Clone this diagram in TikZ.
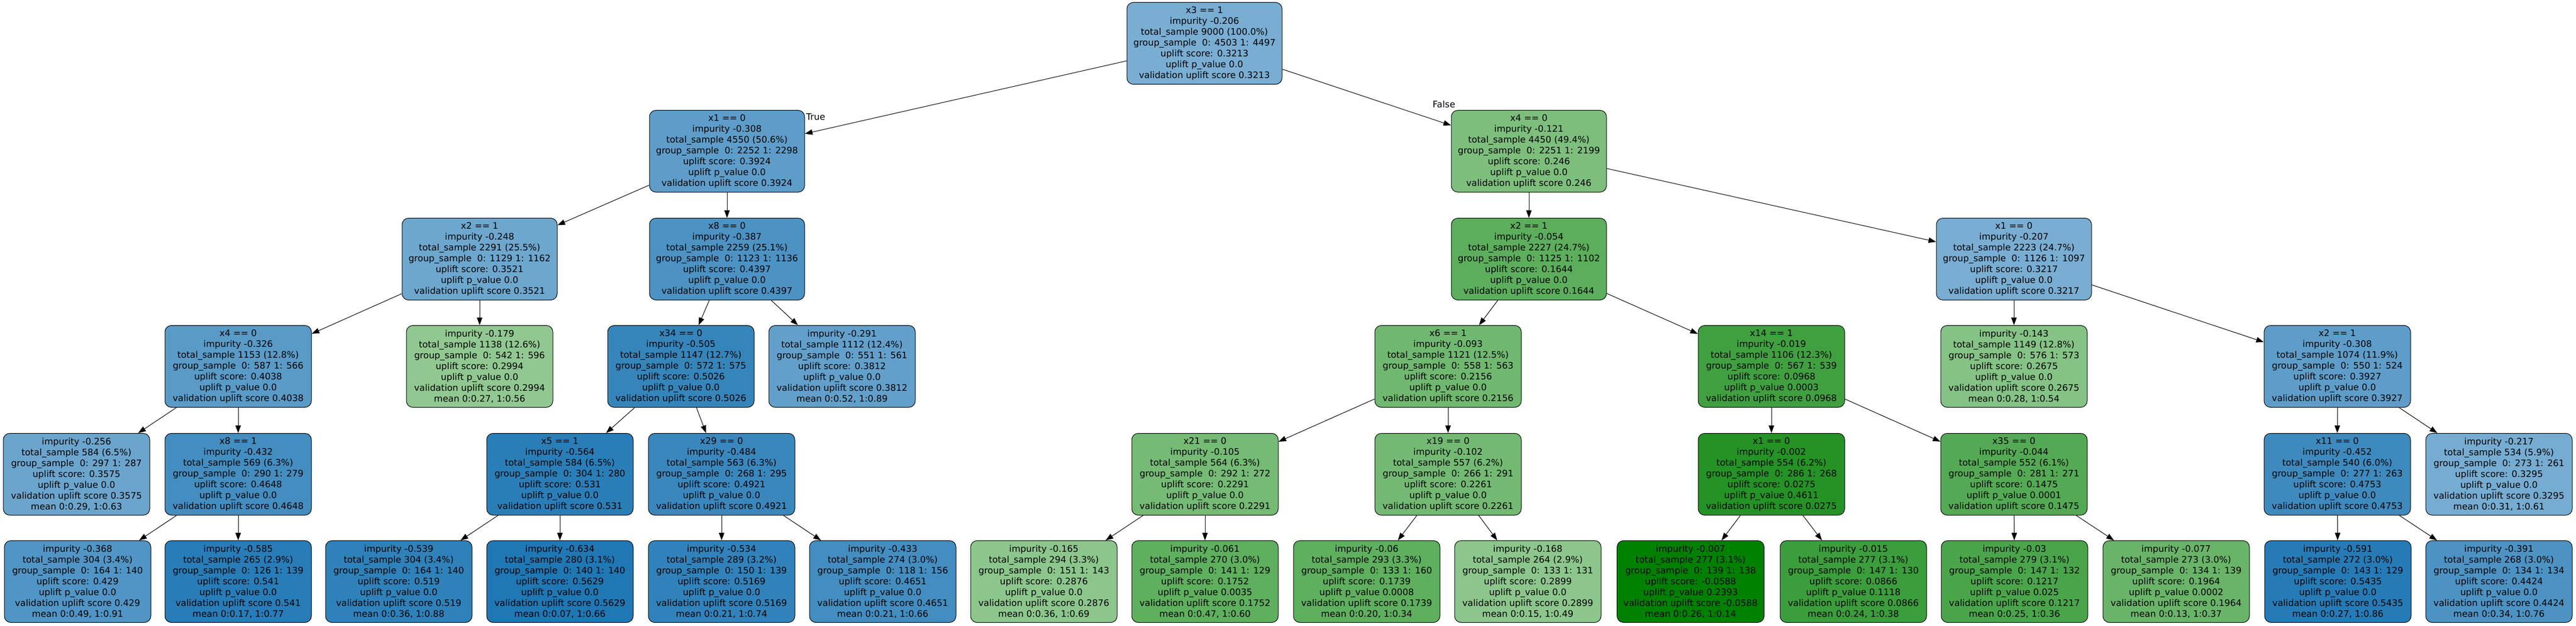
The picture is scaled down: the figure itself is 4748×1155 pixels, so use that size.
\documentclass[tikz,border=0pt]{standalone}
\usepackage{fontspec}
\setmainfont{DejaVu Sans}
\usetikzlibrary{arrows.meta, calc}
\definecolor{upblue}{HTML}{1F77B4}
\definecolor{upgreen}{HTML}{008000}

\begin{document}
\begin{tikzpicture}[
    x=0.5pt, y=-0.5pt,
    >=Triangle,
    split/.style={draw, line width=0.5pt, rounded corners=6pt, minimum width=135pt, minimum height=75.5pt, inner xsep=6pt, align=center, font=\fontsize{8.25}{10}\selectfont},
    leaf/.style={split},
    flow/.style={-{Triangle[length=7pt,width=5pt]}, line width=0.5pt},
    tag/.style={inner sep=1pt, font=\fontsize{8.25}{10}\selectfont}
  ]
    \useasboundingbox (0,0) rectangle (4748,1155);

    % Root
    \node[split, fill=upblue!60] (root) at (2220,80) {x3 == 1\\impurity -0.206\\total\_sample 9000 (100.0\%)\\group\_sample~ 0: 4503 1: 4497\\uplift score: 0.3213\\uplift p\_value 0.0\\validation uplift score 0.3213};

    % Depth 1
    \node[split, fill=upblue!72] (L) at (1340,279) {x1 == 0\\impurity -0.308\\total\_sample 4550 (50.6\%)\\group\_sample~ 0: 2252 1: 2298\\uplift score: 0.3924\\uplift p\_value 0.0\\validation uplift score 0.3924};
    \node[split, fill=upgreen!51] (R) at (2818,279) {x4 == 0\\impurity -0.121\\total\_sample 4450 (49.4\%)\\group\_sample~ 0: 2251 1: 2199\\uplift score: 0.246\\uplift p\_value 0.0\\validation uplift score 0.246};

    % Depth 2
    \node[split, fill=upblue!65] (LL) at (884,478) {x2 == 1\\impurity -0.248\\total\_sample 2291 (25.5\%)\\group\_sample~ 0: 1129 1: 1162\\uplift score: 0.3521\\uplift p\_value 0.0\\validation uplift score 0.3521};
    \node[split, fill=upblue!80] (LR) at (1340,478) {x8 == 0\\impurity -0.387\\total\_sample 2259 (25.1\%)\\group\_sample~ 0: 1123 1: 1136\\uplift score: 0.4397\\uplift p\_value 0.0\\validation uplift score 0.4397};
    \node[split, fill=upgreen!64] (RL) at (2818,478) {x2 == 1\\impurity -0.054\\total\_sample 2227 (24.7\%)\\group\_sample~ 0: 1125 1: 1102\\uplift score: 0.1644\\uplift p\_value 0.0\\validation uplift score 0.1644};
    \node[split, fill=upblue!60] (RR) at (3712,478) {x1 == 0\\impurity -0.207\\total\_sample 2223 (24.7\%)\\group\_sample~ 0: 1126 1: 1097\\uplift score: 0.3217\\uplift p\_value 0.0\\validation uplift score 0.3217};

    % Depth 3
    \node[split, fill=upblue!74] (LLL) at (439,676) {x4 == 0\\impurity -0.326\\total\_sample 1153 (12.8\%)\\group\_sample~ 0: 587 1: 566\\uplift score: 0.4038\\uplift p\_value 0.0\\validation uplift score 0.4038};
    \node[leaf, fill=upgreen!43] (LLR) at (884,676) {impurity -0.179\\total\_sample 1138 (12.6\%)\\group\_sample~ 0: 542 1: 596\\uplift score: 0.2994\\uplift p\_value 0.0\\validation uplift score 0.2994\\mean 0:0.27, 1:0.56};
    \node[split, fill=upblue!90] (LRL) at (1255,676) {x34 == 0\\impurity -0.505\\total\_sample 1147 (12.7\%)\\group\_sample~ 0: 572 1: 575\\uplift score: 0.5026\\uplift p\_value 0.0\\validation uplift score 0.5026};
    \node[leaf, fill=upblue!70] (LRR) at (1552,676) {impurity -0.291\\total\_sample 1112 (12.4\%)\\group\_sample~ 0: 551 1: 561\\uplift score: 0.3812\\uplift p\_value 0.0\\validation uplift score 0.3812\\mean 0:0.52, 1:0.89};
    \node[split, fill=upgreen!56] (RLL) at (2669,676) {x6 == 1\\impurity -0.093\\total\_sample 1121 (12.5\%)\\group\_sample~ 0: 558 1: 563\\uplift score: 0.2156\\uplift p\_value 0.0\\validation uplift score 0.2156};
    \node[split, fill=upgreen!75] (RLR) at (3265,676) {x14 == 1\\impurity -0.019\\total\_sample 1106 (12.3\%)\\group\_sample~ 0: 567 1: 539\\uplift score: 0.0968\\uplift p\_value 0.0003\\validation uplift score 0.0968};
    \node[leaf, fill=upgreen!48] (RRL) at (3712,676) {impurity -0.143\\total\_sample 1149 (12.8\%)\\group\_sample~ 0: 576 1: 573\\uplift score: 0.2675\\uplift p\_value 0.0\\validation uplift score 0.2675\\mean 0:0.28, 1:0.54};
    \node[split, fill=upblue!72] (RRR) at (4308,676) {x2 == 1\\impurity -0.308\\total\_sample 1074 (11.9\%)\\group\_sample~ 0: 550 1: 524\\uplift score: 0.3927\\uplift p\_value 0.0\\validation uplift score 0.3927};

    % Depth 4
    \node[leaf, fill=upblue!66] (LLLL) at (141,875) {impurity -0.256\\total\_sample 584 (6.5\%)\\group\_sample~ 0: 297 1: 287\\uplift score: 0.3575\\uplift p\_value 0.0\\validation uplift score 0.3575\\mean 0:0.29, 1:0.63};
    \node[split, fill=upblue!84] (LLLR) at (439,875) {x8 == 1\\impurity -0.432\\total\_sample 569 (6.3\%)\\group\_sample~ 0: 290 1: 279\\uplift score: 0.4648\\uplift p\_value 0.0\\validation uplift score 0.4648};
    \node[split, fill=upblue!95] (LRLL) at (1032,875) {x5 == 1\\impurity -0.564\\total\_sample 584 (6.5\%)\\group\_sample~ 0: 304 1: 280\\uplift score: 0.531\\uplift p\_value 0.0\\validation uplift score 0.531};
    \node[split, fill=upblue!88] (LRLR) at (1330,875) {x29 == 0\\impurity -0.484\\total\_sample 563 (6.3\%)\\group\_sample~ 0: 268 1: 295\\uplift score: 0.4921\\uplift p\_value 0.0\\validation uplift score 0.4921};
    \node[split, fill=upgreen!54] (RLLL) at (2221,875) {x21 == 0\\impurity -0.105\\total\_sample 564 (6.3\%)\\group\_sample~ 0: 292 1: 272\\uplift score: 0.2291\\uplift p\_value 0.0\\validation uplift score 0.2291};
    \node[split, fill=upgreen!55] (RLLR) at (2669,875) {x19 == 0\\impurity -0.102\\total\_sample 557 (6.2\%)\\group\_sample~ 0: 266 1: 291\\uplift score: 0.2261\\uplift p\_value 0.0\\validation uplift score 0.2261};
    \node[split, fill=upgreen!86] (RLRL) at (3265,875) {x1 == 0\\impurity -0.002\\total\_sample 554 (6.2\%)\\group\_sample~ 0: 286 1: 268\\uplift score: 0.0275\\uplift p\_value 0.4611\\validation uplift score 0.0275};
    \node[split, fill=upgreen!67] (RLRR) at (3712,875) {x35 == 0\\impurity -0.044\\total\_sample 552 (6.1\%)\\group\_sample~ 0: 281 1: 271\\uplift score: 0.1475\\uplift p\_value 0.0001\\validation uplift score 0.1475};
    \node[split, fill=upblue!86] (RRRL) at (4308,875) {x11 == 0\\impurity -0.452\\total\_sample 540 (6.0\%)\\group\_sample~ 0: 277 1: 263\\uplift score: 0.4753\\uplift p\_value 0.0\\validation uplift score 0.4753};
    \node[leaf, fill=upblue!61] (RRRR) at (4606,875) {impurity -0.217\\total\_sample 534 (5.9\%)\\group\_sample~ 0: 273 1: 261\\uplift score: 0.3295\\uplift p\_value 0.0\\validation uplift score 0.3295\\mean 0:0.31, 1:0.61};

    % Depth 5 (leaves)
    \node[leaf, fill=upblue!78] (LLLRL) at (143,1073) {impurity -0.368\\total\_sample 304 (3.4\%)\\group\_sample~ 0: 164 1: 140\\uplift score: 0.429\\uplift p\_value 0.0\\validation uplift score 0.429\\mean 0:0.49, 1:0.91};
    \node[leaf, fill=upblue!96] (LLLRR) at (439,1073) {impurity -0.585\\total\_sample 265 (2.9\%)\\group\_sample~ 0: 126 1: 139\\uplift score: 0.541\\uplift p\_value 0.0\\validation uplift score 0.541\\mean 0:0.17, 1:0.77};
    \node[leaf, fill=upblue!93] (LRLLL) at (735,1073) {impurity -0.539\\total\_sample 304 (3.4\%)\\group\_sample~ 0: 164 1: 140\\uplift score: 0.519\\uplift p\_value 0.0\\validation uplift score 0.519\\mean 0:0.36, 1:0.88};
    \node[leaf, fill=upblue!100] (LRLLR) at (1032,1073) {impurity -0.634\\total\_sample 280 (3.1\%)\\group\_sample~ 0: 140 1: 140\\uplift score: 0.5629\\uplift p\_value 0.0\\validation uplift score 0.5629\\mean 0:0.07, 1:0.66};
    \node[leaf, fill=upblue!92] (LRLRL) at (1330,1073) {impurity -0.534\\total\_sample 289 (3.2\%)\\group\_sample~ 0: 150 1: 139\\uplift score: 0.5169\\uplift p\_value 0.0\\validation uplift score 0.5169\\mean 0:0.21, 1:0.74};
    \node[leaf, fill=upblue!84] (LRLRR) at (1627,1073) {impurity -0.433\\total\_sample 274 (3.0\%)\\group\_sample~ 0: 118 1: 156\\uplift score: 0.4651\\uplift p\_value 0.0\\validation uplift score 0.4651\\mean 0:0.21, 1:0.66};
    \node[leaf, fill=upgreen!45] (RLLLL) at (1924,1073) {impurity -0.165\\total\_sample 294 (3.3\%)\\group\_sample~ 0: 151 1: 143\\uplift score: 0.2876\\uplift p\_value 0.0\\validation uplift score 0.2876\\mean 0:0.36, 1:0.69};
    \node[leaf, fill=upgreen!63] (RLLLR) at (2221,1073) {impurity -0.061\\total\_sample 270 (3.0\%)\\group\_sample~ 0: 141 1: 129\\uplift score: 0.1752\\uplift p\_value 0.0035\\validation uplift score 0.1752\\mean 0:0.47, 1:0.60};
    \node[leaf, fill=upgreen!63] (RLLRL) at (2519,1073) {impurity -0.06\\total\_sample 293 (3.3\%)\\group\_sample~ 0: 133 1: 160\\uplift score: 0.1739\\uplift p\_value 0.0008\\validation uplift score 0.1739\\mean 0:0.20, 1:0.34};
    \node[leaf, fill=upgreen!45] (RLLRR) at (2816,1073) {impurity -0.168\\total\_sample 264 (2.9\%)\\group\_sample~ 0: 133 1: 131\\uplift score: 0.2899\\uplift p\_value 0.0\\validation uplift score 0.2899\\mean 0:0.15, 1:0.49};
    \node[leaf, fill=upgreen!100] (RLRLL) at (3116,1073) {impurity -0.007\\total\_sample 277 (3.1\%)\\group\_sample~ 0: 139 1: 138\\uplift score: -0.0588\\uplift p\_value 0.2393\\validation uplift score -0.0588\\mean 0:0.26, 1:0.14};
    \node[leaf, fill=upgreen!77] (RLRLR) at (3416,1073) {impurity -0.015\\total\_sample 277 (3.1\%)\\group\_sample~ 0: 147 1: 130\\uplift score: 0.0866\\uplift p\_value 0.1118\\validation uplift score 0.0866\\mean 0:0.24, 1:0.38};
    \node[leaf, fill=upgreen!71] (RLRRL) at (3713,1073) {impurity -0.03\\total\_sample 279 (3.1\%)\\group\_sample~ 0: 147 1: 132\\uplift score: 0.1217\\uplift p\_value 0.025\\validation uplift score 0.1217\\mean 0:0.25, 1:0.36};
    \node[leaf, fill=upgreen!59] (RLRRR) at (4011,1073) {impurity -0.077\\total\_sample 273 (3.0\%)\\group\_sample~ 0: 134 1: 139\\uplift score: 0.1964\\uplift p\_value 0.0002\\validation uplift score 0.1964\\mean 0:0.13, 1:0.37};
    \node[leaf, fill=upblue!97] (RRRLL) at (4309,1073) {impurity -0.591\\total\_sample 272 (3.0\%)\\group\_sample~ 0: 143 1: 129\\uplift score: 0.5435\\uplift p\_value 0.0\\validation uplift score 0.5435\\mean 0:0.27, 1:0.86};
    \node[leaf, fill=upblue!80] (RRRLR) at (4606,1073) {impurity -0.391\\total\_sample 268 (3.0\%)\\group\_sample~ 0: 134 1: 134\\uplift score: 0.4424\\uplift p\_value 0.0\\validation uplift score 0.4424\\mean 0:0.34, 1:0.76};

    % Edges
    \foreach \a/\b in {root/L, root/R, L/LL, L/LR, R/RL, R/RR,
        LL/LLL, LL/LLR, LR/LRL, LR/LRR, RL/RLL, RL/RLR, RR/RRL, RR/RRR,
        LLL/LLLL, LLL/LLLR, LRL/LRLL, LRL/LRLR, RLL/RLLL, RLL/RLLR,
        RLR/RLRL, RLR/RLRR, RRR/RRRL, RRR/RRRR,
        LLLR/LLLRL, LLLR/LLLRR, LRLL/LRLLL, LRLL/LRLLR, LRLR/LRLRL, LRLR/LRLRR,
        RLLL/RLLLL, RLLL/RLLLR, RLLR/RLLRL, RLLR/RLLRR, RLRL/RLRLL, RLRL/RLRLR,
        RLRR/RLRRL, RLRR/RLRRR, RRRL/RRRLL, RRRL/RRRLR}
      \draw[flow] (\a) -- (\b);

    % Branch labels
    \node[tag, anchor=north west] (truetag) at ($(L.north east)+(0,4)$) {True};
    \node[tag, anchor=south east] (falsetag) at ($(R.north west)+(10,-2)$) {False};
  \end{tikzpicture}
\end{document}
